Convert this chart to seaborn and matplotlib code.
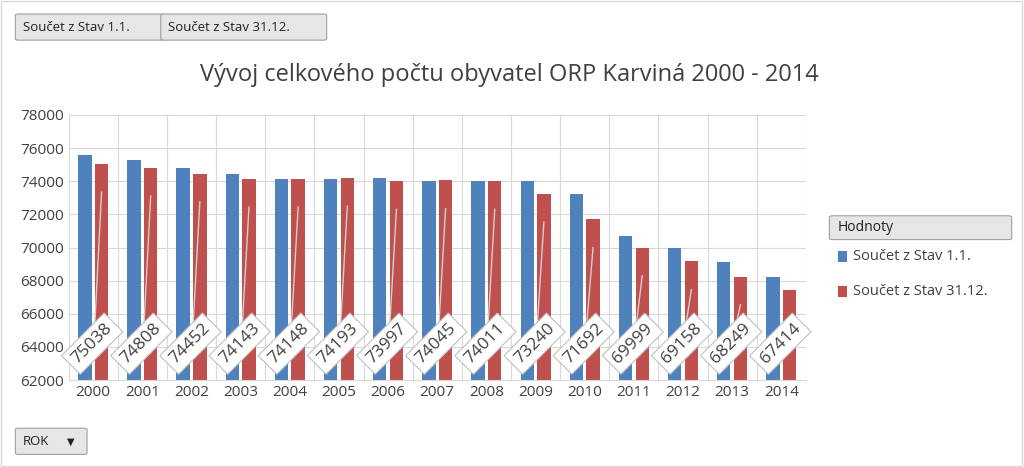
import matplotlib
matplotlib.use("Agg")
import matplotlib.pyplot as plt
import seaborn as sns
import pandas as pd
from matplotlib.patches import FancyBboxPatch, Rectangle

# --- Data ---
years = [str(y) for y in range(2000, 2015)]
stav_1_1 = [75580, 75300, 74820, 74420, 74120, 74130, 74180, 74020, 74000, 74000,
            73250, 70690, 69980, 69150, 68230]
stav_31_12 = [75038, 74808, 74452, 74143, 74148, 74193, 73997, 74045, 74011, 73240,
              71692, 69999, 69158, 68249, 67414]
series_names = ["Součet z Stav 1.1.", "Součet z Stav 31.12."]
colors = ["#4f81bd", "#c0504d"]

df = pd.DataFrame({"ROK": years * 2,
                   "value": stav_1_1 + stav_31_12,
                   "series": [series_names[0]] * 15 + [series_names[1]] * 15})

plt.rcParams["font.family"] = ["Open Sans", "DejaVu Sans"]
fig = plt.figure(figsize=(10.24, 4.67), dpi=100)
ax = fig.add_axes([0.067, 0.186, 0.72, 0.568])

sns.barplot(data=df, x="ROK", y="value", hue="series", palette=colors,
            width=0.68, gap=0.2, ax=ax, legend=False, saturation=1)

ax.set_ylim(62000, 78000)
ax.set_yticks(range(62000, 78001, 2000))
ax.set_xlim(-0.5, 14.5)
ax.set_xlabel("")
ax.set_ylabel("")
ax.tick_params(length=0, labelsize=11, colors="#404040")
for x in [i + 0.5 for i in range(-1, 15)]:
    ax.axvline(x, color="#d9d9d9", lw=0.8, zorder=0)
ax.grid(axis="y", color="#d9d9d9", lw=0.8)
ax.set_axisbelow(True)
for s in ["top", "right", "left"]:
    ax.spines[s].set_visible(False)
ax.spines["bottom"].set_color("#d9d9d9")

# data labels with leader lines
for i, v in enumerate(stav_31_12):
    xr = i + 0.17
    ax.plot([xr, i + 0.02], [v - 1700, 64600], color="#d0d0d0", lw=1, zorder=3)
    ax.text(i - 0.02, 64200, str(v), rotation=45, ha="center", va="center",
            fontsize=12.5, color="#404040", zorder=4,
            bbox=dict(boxstyle="square,pad=0.3", fc="white", ec="#bfbfbf", lw=0.8))

fig.text(0.497, 0.84, "Vývoj celkového počtu obyvatel ORP Karviná 2000 - 2014",
         ha="center", va="center", fontsize=17, color="#404040")

# legend
fig.patches.append(FancyBboxPatch((0.813, 0.49), 0.172, 0.045, boxstyle="round,pad=0.003",
                                  transform=fig.transFigure, fc="#e6e6e6", ec="#a0a0a0", lw=0.8))
fig.text(0.818, 0.513, "Hodnoty", fontsize=10, va="center", color="#202020")
for k, (name, c) in enumerate(zip(series_names, colors)):
    y = 0.45 - k * 0.075
    fig.patches.append(Rectangle((0.818, y - 0.012), 0.009, 0.024, transform=fig.transFigure,
                                 fc=c, ec="none"))
    fig.text(0.833, y, name, fontsize=10.5, va="center", color="#404040")

# field buttons
for x0, w, label in [(0.018, 0.14, "Součet z Stav 1.1."), (0.16, 0.156, "Součet z Stav 31.12.")]:
    fig.patches.append(FancyBboxPatch((x0, 0.917), w, 0.05, boxstyle="round,pad=0.003",
                                      transform=fig.transFigure, fc="#e6e6e6", ec="#a0a0a0", lw=0.8))
    fig.text(x0 + 0.004, 0.942, label, fontsize=9.5, va="center", color="#202020")
fig.patches.append(FancyBboxPatch((0.018, 0.03), 0.064, 0.05, boxstyle="round,pad=0.003",
                                  transform=fig.transFigure, fc="#e6e6e6", ec="#a0a0a0", lw=0.8))
fig.text(0.022, 0.055, "ROK", fontsize=9.5, va="center", color="#202020")
fig.text(0.065, 0.055, "▼", fontsize=7, va="center", color="#202020", family="DejaVu Sans")

fig.patches.append(Rectangle((0.001, 0.002), 0.997, 0.996, transform=fig.transFigure,
                             fc="none", ec="#d9d9d9", lw=1))

fig.savefig("out.png", dpi=100)
